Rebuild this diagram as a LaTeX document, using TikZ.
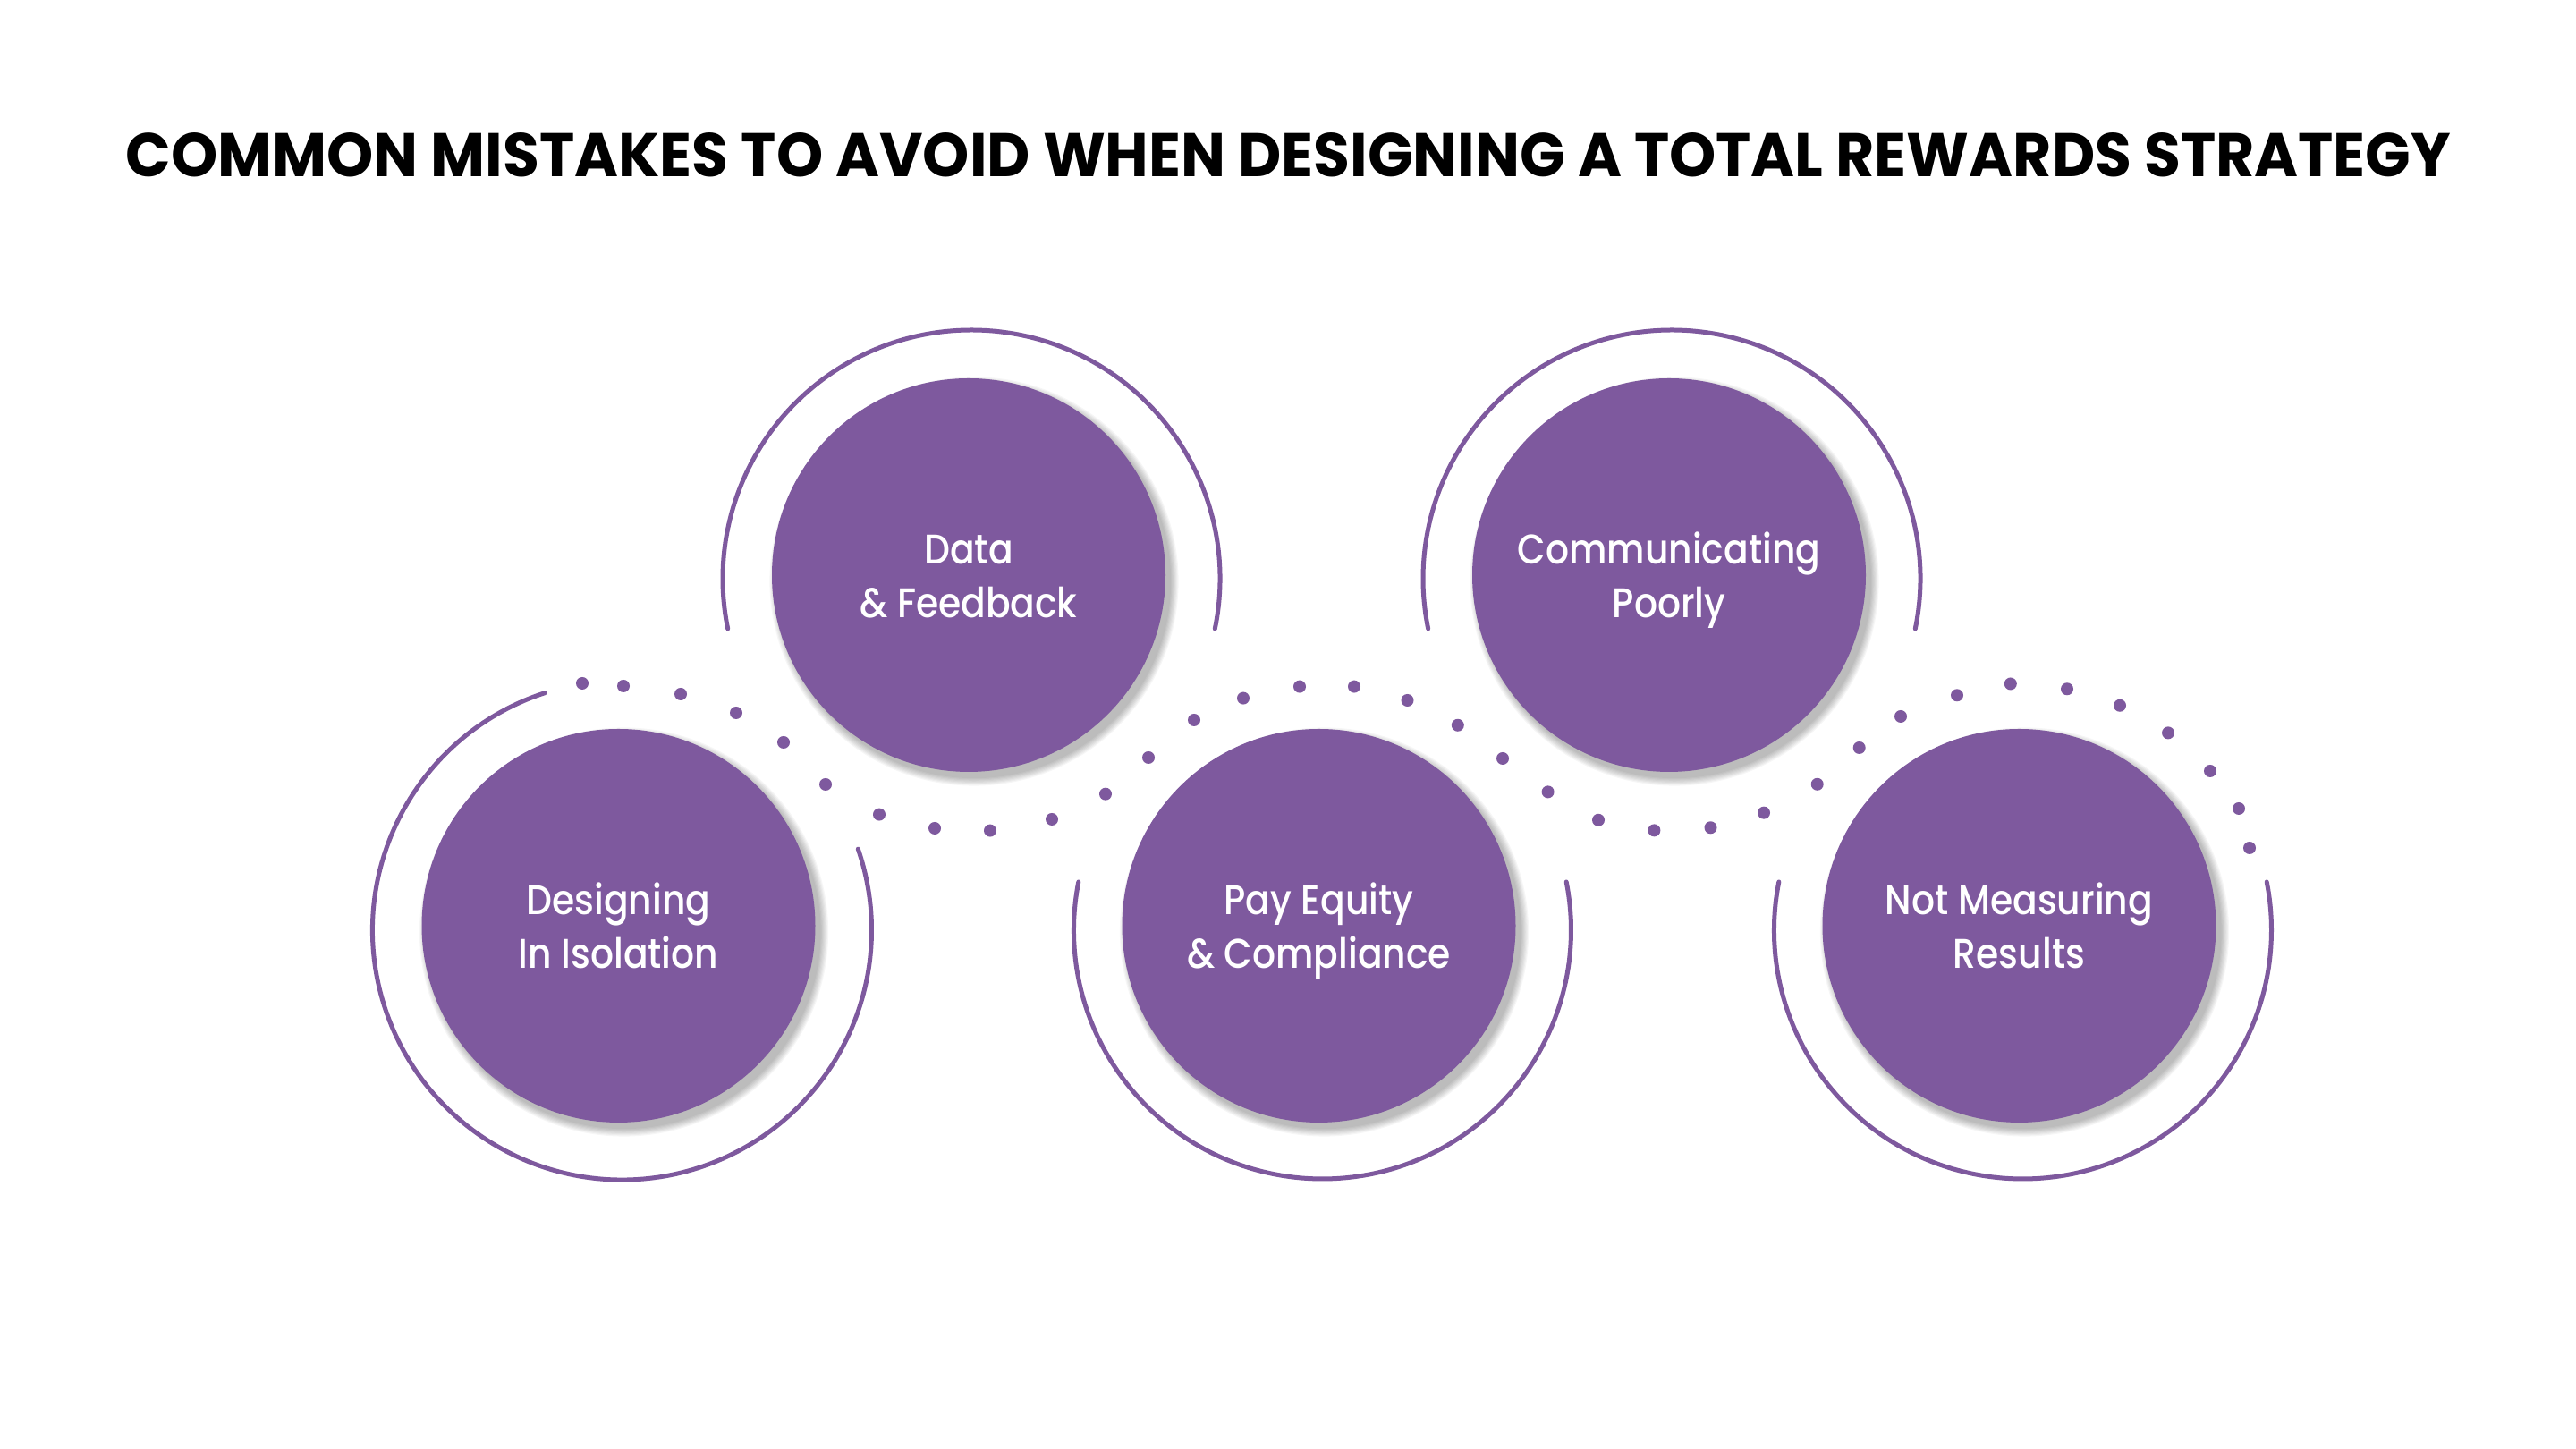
\documentclass[tikz,border=0pt]{standalone}
\usepackage{fontspec}
\usepackage{graphicx}
\setmainfont{Poppins}
\IfFontExistsTF{Poppins Medium}{\newfontfamily\lblfont[FakeStretch=0.88]{Poppins Medium}}{\newfontfamily\lblfont[FakeStretch=0.88]{Poppins}}
\usetikzlibrary{calc}
\definecolor{purp}{RGB}{126,89,158}
\tikzset{
  disc/.style={circle,fill=purp,minimum size=4.4cm,inner sep=0pt,draw=none},
  ringline/.style={draw=purp,line width=0.05cm,line cap=round},
  lbl/.style={anchor=base,text=white,inner sep=0pt,font=\lblfont\fontsize{13.2}{16}\selectfont},
  dotc/.style={fill=purp},
}
\newcommand{\softshadow}[1]{%
  \foreach \k in {1,...,8}{\fill[black,opacity=0.035] ($(#1)+(0.06,-0.07)$) circle ({2.19+0.012*\k});}}
\begin{document}
\begin{tikzpicture}
\useasboundingbox (0,0) rectangle (28.8,16.2);
\fill[white] (0,0) rectangle (28.8,16.2);

% title
\node[anchor=base,inner sep=0pt] (title) at (14.405,14.22)
  {\resizebox{25.99cm}{0.49cm}{\bfseries COMMON MISTAKES TO AVOID WHEN DESIGNING A TOTAL REWARDS STRATEGY}};

% centres
\coordinate (p1) at (6.915,5.85);
\coordinate (p2) at (10.83,9.77);
\coordinate (p3) at (14.745,5.85);
\coordinate (p4) at (18.66,9.77);
\coordinate (p5) at (22.575,5.85);
\coordinate (r1) at ($(p1)+(0.04,-0.05)$);
\coordinate (r2) at ($(p2)+(0.03,-0.04)$);
\coordinate (r3) at ($(p3)+(0.04,-0.05)$);
\coordinate (r4) at ($(p4)+(0.03,-0.04)$);
\coordinate (r5) at ($(p5)+(0.04,-0.05)$);

% rings
\draw[ringline] ($(r1)+(108:2.79)$) arc[start angle=108,end angle=379,radius=2.79];
\draw[ringline] ($(r2)+(-11.6:2.78)$) arc[start angle=-11.6,end angle=191.6,radius=2.78];
\draw[ringline] ($(r3)+(168.8:2.78)$) arc[start angle=168.8,end angle=371.2,radius=2.78];
\draw[ringline] ($(r4)+(-11.6:2.78)$) arc[start angle=-11.6,end angle=191.6,radius=2.78];
\draw[ringline] ($(r5)+(168.8:2.78)$) arc[start angle=168.8,end angle=371.2,radius=2.78];

% dotted wave
\foreach \x/\y in {6.51/8.56,6.97/8.53,7.61/8.44,8.23/8.23,8.76/7.90,9.23/7.43,
  9.83/7.094,10.45/6.94,11.07/6.914,11.76/7.04,12.36/7.323,12.84/7.73,13.35/8.15,
  13.90/8.394,14.53/8.524,15.14/8.524,15.735/8.37,16.298/8.092,16.80/7.72,17.306/7.346,
  17.87/7.032,18.494/6.916,19.125/6.947,19.72/7.113,20.317/7.432,20.787/7.84,21.25/8.19,
  21.88/8.427,22.478/8.555,23.11/8.497,23.70/8.312,24.24/8.006,24.71/7.58,25.03/7.16,25.15/6.72}
  {\fill[dotc] (\x,\y) circle (0.07);}

% shadows and discs
\softshadow{p1}\softshadow{p2}\softshadow{p3}\softshadow{p4}\softshadow{p5}
\node[disc] (c1) at (p1) {};
\node[disc] (c2) at (p2) {};
\node[disc] (c3) at (p3) {};
\node[disc] (c4) at (p4) {};
\node[disc] (c5) at (p5) {};

% labels
\node[lbl] (t1a) at ($(c1.center)+(0,0.12)$) {Designing};
\node[lbl] (t1b) at ($(c1.center)+(0,-0.476)$) {In Isolation};
\node[lbl] (t2a) at ($(c2.center)+(0,0.12)$) {Data};
\node[lbl] (t2b) at ($(c2.center)+(0,-0.476)$) {\& Feedback};
\node[lbl] (t3a) at ($(c3.center)+(0,0.12)$) {Pay Equity};
\node[lbl] (t3b) at ($(c3.center)+(0,-0.476)$) {\& Compliance};
\node[lbl] (t4a) at ($(c4.center)+(0,0.12)$) {Communicating};
\node[lbl] (t4b) at ($(c4.center)+(0,-0.476)$) {Poorly};
\node[lbl] (t5a) at ($(c5.center)+(0,0.12)$) {Not Measuring};
\node[lbl] (t5b) at ($(c5.center)+(0,-0.476)$) {Results};
\end{tikzpicture}
\end{document}
